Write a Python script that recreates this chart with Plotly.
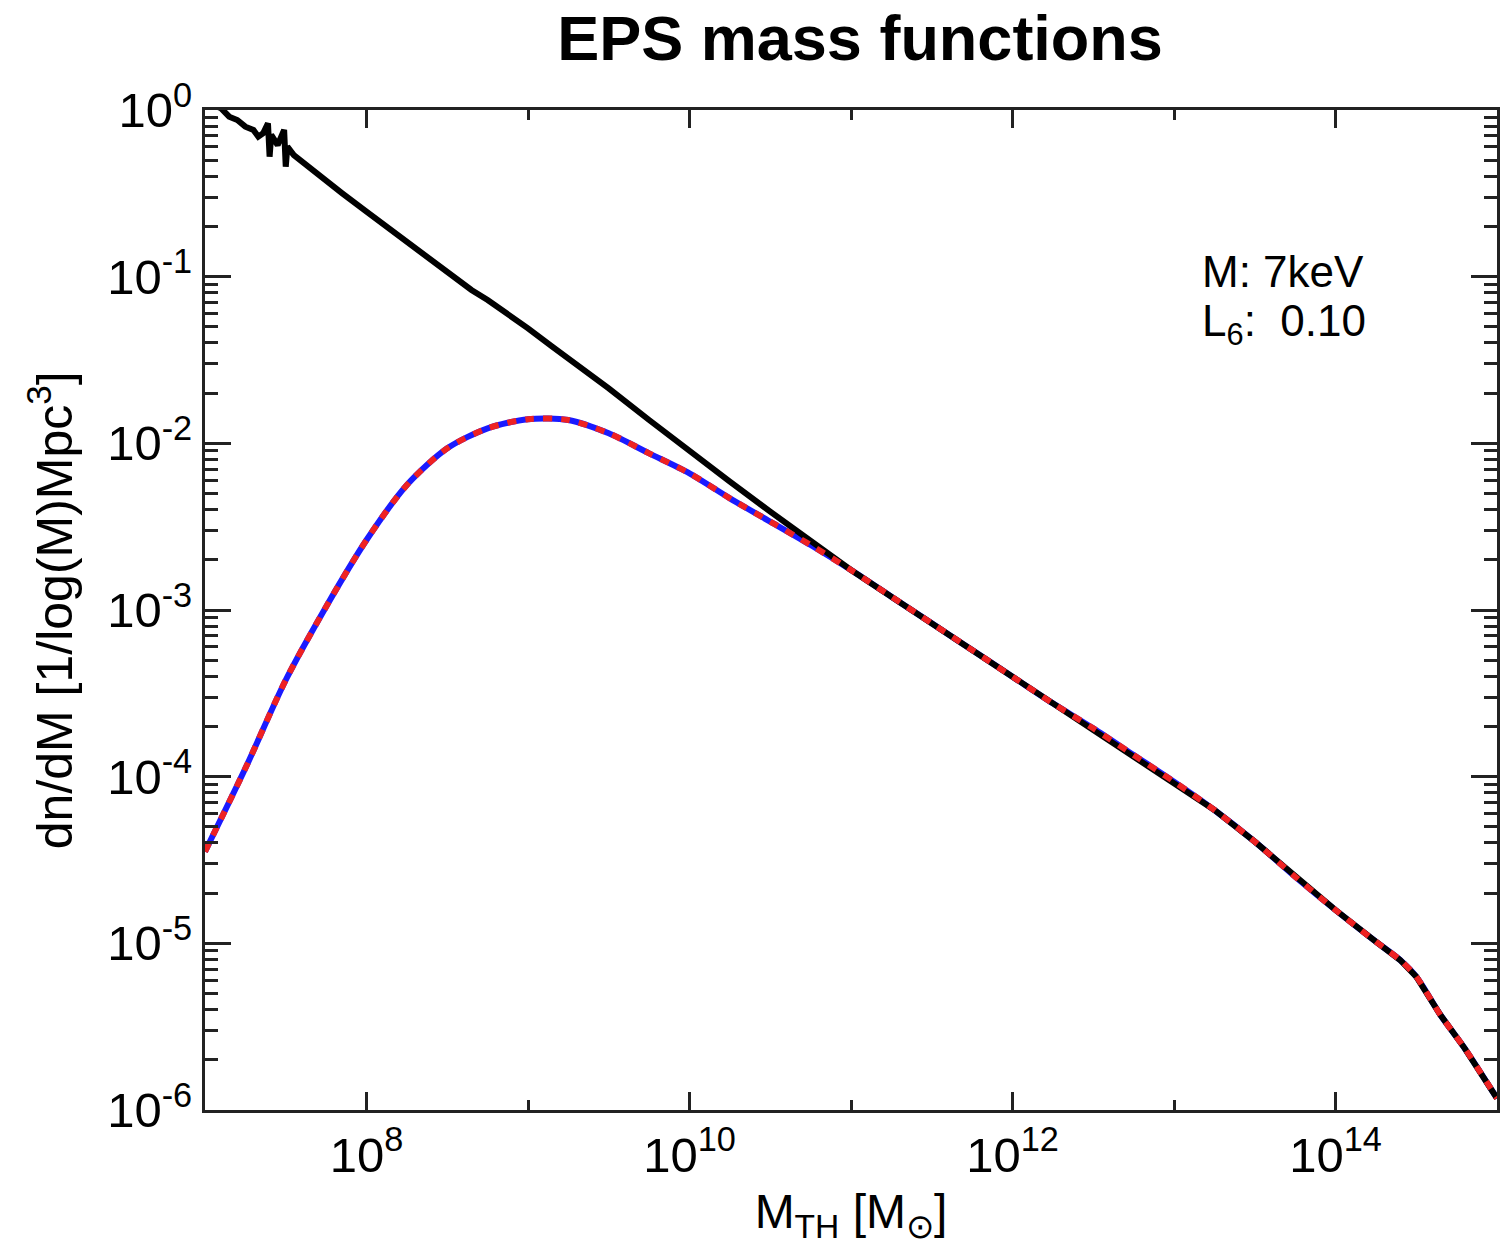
import plotly.graph_objects as go

# ---------------- data (log10 values) ----------------
# CDM mass function (black, noisy at low mass)
cdm_logm = [7.00, 7.05, 7.10, 7.15, 7.20, 7.25, 7.30, 7.33, 7.36, 7.39, 7.40, 7.41,
            7.45, 7.49, 7.50, 7.51, 7.55, 7.60, 7.65, 7.70, 7.75, 7.85, 8.00, 8.15,
            8.25, 8.40, 8.50, 8.65, 8.75, 8.90, 9.00, 9.15, 9.25, 9.40, 9.50, 9.75,
            10.00, 10.25, 10.50, 10.75, 11.00, 11.25, 11.50, 11.75, 12.00, 12.25,
            12.50, 12.75, 13.00, 13.25, 13.50, 13.75, 14.00, 14.25, 14.40, 14.50,
            14.65, 14.80, 15.00]
cdm_logn = [0.07, 0.03, 0.01, -0.04, -0.06, -0.10, -0.12, -0.16, -0.14, -0.08, -0.28, -0.15,
            -0.21, -0.12, -0.34, -0.22, -0.27, -0.31, -0.35, -0.39, -0.43, -0.50, -0.61, -0.72,
            -0.79, -0.90, -0.97, -1.08, -1.14, -1.24, -1.31, -1.42, -1.49, -1.60, -1.67, -1.86,
            -2.05, -2.23, -2.41, -2.59, -2.76, -2.92, -3.08, -3.24, -3.40, -3.56,
            -3.71, -3.87, -4.03, -4.20, -4.39, -4.60, -4.80, -4.99, -5.10, -5.20,
            -5.43, -5.63, -5.93]

# WDM (7 keV, L6 = 0.10) mass functions: red and blue curves overlap
wdm_logm = [7.00, 7.25, 7.50, 7.75, 8.00, 8.25, 8.50, 8.75, 9.00, 9.25, 9.50, 9.75,
            10.00, 10.25, 10.50, 10.75, 11.00, 11.25, 11.50, 11.75, 12.00, 12.25,
            12.50, 12.75, 13.00, 13.25, 13.50, 13.75, 14.00, 14.25, 14.40, 14.50,
            14.65, 14.80, 15.00]
wdm_logn = [-4.45, -3.95, -3.42, -2.98, -2.58, -2.25, -2.03, -1.91, -1.855, -1.86, -1.94, -2.06,
            -2.18, -2.33, -2.47, -2.61, -2.76, -2.92, -3.08, -3.24, -3.40, -3.56,
            -3.71, -3.87, -4.03, -4.20, -4.39, -4.60, -4.80, -4.99, -5.10, -5.20,
            -5.43, -5.63, -5.93]

x_major = [8, 10, 12, 14]
x_minor = [7, 9, 11, 13, 15]
y_major = [0, -1, -2, -3, -4, -5, -6]

FONT = "Liberation Sans, Arial, Helvetica, sans-serif"

cdm_m = [10 ** v for v in cdm_logm]
cdm_n = [10 ** v for v in cdm_logn]
wdm_m = [10 ** v for v in wdm_logm]
wdm_n = [10 ** v for v in wdm_logn]

fig = go.Figure()
fig.add_trace(go.Scatter(x=wdm_m, y=wdm_n, mode="lines",
                         line=dict(color="#1a1aff", width=6, shape="spline", smoothing=0.8),
                         showlegend=False))
fig.add_trace(go.Scatter(x=cdm_m, y=cdm_n, mode="lines",
                         line=dict(color="black", width=6), showlegend=False))
fig.add_trace(go.Scatter(x=wdm_m, y=wdm_n, mode="lines",
                         line=dict(color="#ee2222", width=6, dash="9px,9px",
                                   shape="spline", smoothing=0.8),
                         showlegend=False))

axis_common = dict(
    type="log", showgrid=False, zeroline=False, automargin=False,
    showline=True, linecolor="#222", linewidth=3, mirror="ticks",
    ticks="inside", tickcolor="#222", tickwidth=2.5,
    tickfont=dict(family=FONT, size=49, color="black"),
)

fig.update_xaxes(
    **axis_common,
    range=[7, 15],
    tickmode="array",
    tickvals=[10 ** v for v in x_major],
    ticktext=[f"10<sup>{v}</sup>" for v in x_major],
    ticklen=18,
    minor=dict(tickmode="array", tickvals=[10 ** v for v in x_minor],
               ticks="inside", ticklen=10, tickcolor="#222", tickwidth=2.5),
    title=dict(text="M<sub>TH</sub> [M<sub>⊙</sub>]",
               font=dict(family=FONT, size=48, color="black"), standoff=24),
)
fig.update_yaxes(
    **axis_common,
    range=[-6, 0],
    tickmode="array",
    tickvals=[10 ** v for v in y_major],
    ticktext=[f"10<sup>{v}</sup>" for v in y_major],
    ticklen=26,
    minor=dict(ticks="inside", ticklen=13, tickcolor="#222", tickwidth=2.5,
               dtick="D1"),
)

# y-axis title placed to match the reference position
fig.add_annotation(text="dn/dM [1/log(M)Mpc<sup>3</sup>]", xref="paper", yref="paper",
                   x=-0.119, y=0.5, xanchor="center", yanchor="middle", textangle=-90,
                   showarrow=False, font=dict(family=FONT, size=50, color="black"))

fig.add_annotation(text="M: 7keV", xref="paper", yref="paper",
                   x=0.770, y=0.839, xanchor="left", yanchor="middle",
                   showarrow=False, font=dict(family=FONT, size=44, color="black"))
fig.add_annotation(text="L<sub>6</sub>:  0.10", xref="paper", yref="paper",
                   x=0.770, y=0.786, xanchor="left", yanchor="middle",
                   showarrow=False, font=dict(family=FONT, size=44, color="black"))

# the page body adds an 8px offset, so the figure is 8px smaller than the window
fig.update_layout(
    width=1504, height=1237,
    margin=dict(l=197, r=15, t=102, b=135),
    paper_bgcolor="white", plot_bgcolor="white",
    title=dict(text="<b>EPS mass functions</b>", x=0.507, xref="paper",
               y=1 - 30 / 1237, yref="container", yanchor="middle", automargin=False,
               font=dict(family=FONT, size=63, color="black")),
)

fig.write_html("out.html")
